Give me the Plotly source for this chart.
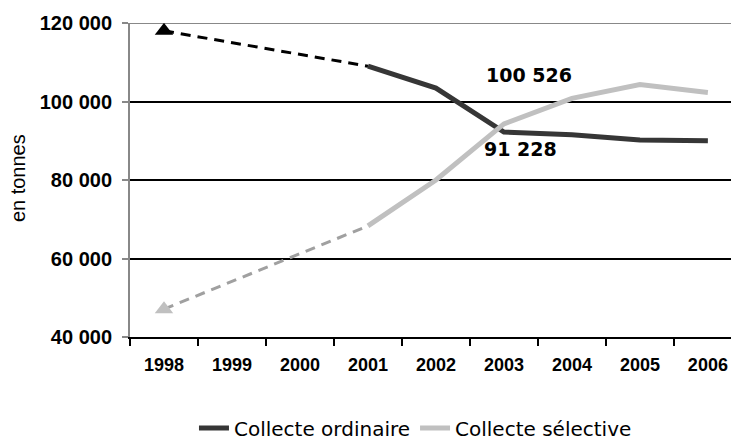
import plotly.graph_objects as go

years = ["1998", "1999", "2000", "2001", "2002", "2003", "2004", "2005", "2006"]
ordinaire = [118000, None, None, 109000, 103400, 92200, 91500, 90200, 90000]
selective = [47100, None, None, 68300, 80000, 94300, 100800, 104300, 102300]

y_ticks = [40000, 60000, 80000, 100000, 120000]
y_labels = ["40 000", "60 000", "80 000", "100 000", "120 000"]

labels = ["100 526", "91 228"]
label_x = [5.37, 5.25]
label_y = [106700, 87900]

DARK = "#363636"
LIGHT = "#c0c0c0"

fig = go.Figure()

# dashed estimate 1998 -> 2001
fig.add_trace(go.Scatter(
    x=[years[0], years[3]], y=[ordinaire[0], ordinaire[3]],
    mode="lines", line=dict(color="black", width=3, dash="10px,7px"),
    showlegend=False, hoverinfo="skip"))
fig.add_trace(go.Scatter(
    x=[years[0], years[3]], y=[selective[0], selective[3]],
    mode="lines", line=dict(color="#a0a0a0", width=3, dash="10px,7px"),
    showlegend=False, hoverinfo="skip"))
fig.add_trace(go.Scatter(
    x=[years[0]], y=[ordinaire[0]], mode="markers",
    marker=dict(symbol="triangle-up", size=16, color="black"),
    showlegend=False))
fig.add_trace(go.Scatter(
    x=[years[0]], y=[selective[0]], mode="markers",
    marker=dict(symbol="triangle-up", size=16, color=LIGHT),
    showlegend=False))

fig.add_trace(go.Scatter(
    x=years[3:], y=ordinaire[3:], mode="lines", name="Collecte ordinaire",
    line=dict(color=DARK, width=5)))
fig.add_trace(go.Scatter(
    x=years[3:], y=selective[3:], mode="lines", name="Collecte sélective",
    line=dict(color=LIGHT, width=5)))

for t, xv, yv in zip(labels, label_x, label_y):
    fig.add_annotation(x=xv, y=yv, text=t, showarrow=False,
                       font=dict(family="DejaVu Sans", size=19, color="black", weight="bold"))

fig.add_annotation(xref="paper", yref="paper", x=0, y=0.506, xshift=-112, text="en tonnes",
                   textangle=-90, showarrow=False, xanchor="center", yanchor="middle",
                   font=dict(family="Liberation Sans", size=20, color="black"))

fig.add_shape(type="line", xref="paper", yref="y", x0=0, x1=1, y0=120000, y1=120000,
              line=dict(color="#888888", width=2), layer="below")

fig.update_layout(
    width=731, height=443,
    margin=dict(l=130, r=0, t=23, b=106, autoexpand=False),
    plot_bgcolor="white", paper_bgcolor="white",
    font=dict(family="Liberation Sans", color="black"),
    legend=dict(orientation="h", x=0.475, xanchor="center", y=-0.29, yanchor="middle",
                font=dict(family="DejaVu Sans", size=20), tracegroupgap=0),
    showlegend=True,
)
fig.update_xaxes(
    type="category", categoryorder="array", categoryarray=years,
    range=[-0.5, 8.34], tickson="boundaries", ticks="outside", ticklen=7,
    tickcolor="black", tickwidth=2, showline=True, linecolor="black", linewidth=2,
    showgrid=False, automargin=False, ticklabelstandoff=10,
    tickfont=dict(size=18, family="Liberation Sans", weight="bold"))
fig.update_yaxes(
    range=[40000, 120000], tickvals=y_ticks, ticktext=y_labels,
    ticks="outside", ticklen=6, tickcolor="#888888", tickwidth=2,
    showline=True, linecolor="#888888", linewidth=2,
    showgrid=True, gridcolor="black", gridwidth=2, zeroline=False, automargin=False,
    ticklabelstandoff=6,
    tickfont=dict(size=20, family="Liberation Sans", weight="bold"))

fig.write_html("out.html", config={"displayModeBar": False},
               post_script="document.body.style.margin='0';")
